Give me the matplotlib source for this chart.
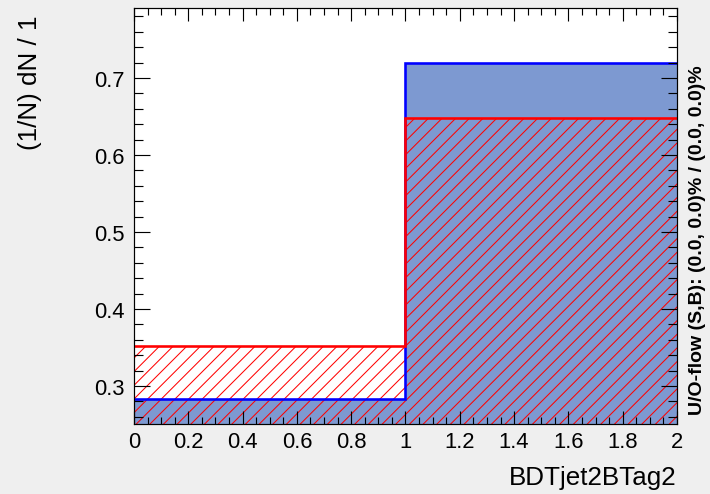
import matplotlib
matplotlib.use("Agg")
import matplotlib.pyplot as plt
import numpy as np

# bin edges of BDTjet2BTag2 and normalised contents
edges = [0.0, 1.0, 2.0]
signal = [0.283, 0.720]       # blue, filled
background = [0.352, 0.648]   # red, hatched

xlabel = "BDTjet2BTag2"
ylabel = "(1/N) dN / 1"
oflow_text = "U/O-flow (S,B): (0.0, 0.0)% / (0.0, 0.0)%"

# dpi picked so that the '//' hatch spacing looks like the ROOT 3005 style
DPI = 82
W, H = 711, 495
PT = 72.0 / DPI  # pixels -> points

plt.rcParams['font.family'] = ['Liberation Sans', 'DejaVu Sans']
plt.rcParams['hatch.color'] = 'red'
plt.rcParams['hatch.linewidth'] = 0.9

fig = plt.figure(figsize=(W / DPI, H / DPI), dpi=DPI, facecolor='#efefef')
ax = fig.add_axes([134 / W, (H - 425) / H, (677 - 134) / W, (425 - 9) / H])
ax.set_facecolor('white')

# histograms
ax.stairs(signal, edges, fill=True, color='#7d99d1', linewidth=0, zorder=1)
ax.stairs(background, edges, fill=True, facecolor='none', edgecolor='red',
          hatch='//', linewidth=0, zorder=1.1)
ax.stairs(signal, edges, baseline=None, color='blue', linewidth=2.6 * PT, zorder=1.2)
ax.stairs(background, edges, baseline=None, color='red', linewidth=2.6 * PT, zorder=1.3)

ax.set_xlim(0, 2)
ax.set_ylim(0.2506, 0.791)

ax.set_xticks(np.arange(0, 2.01, 0.2))
ax.set_xticks(np.arange(0, 2.01, 0.05), minor=True)
ax.set_xticklabels(["0", "0.2", "0.4", "0.6", "0.8", "1", "1.2", "1.4", "1.6", "1.8", "2"])
ax.set_yticks([0.3, 0.4, 0.5, 0.6, 0.7])
ax.set_yticks(np.arange(0.26, 0.79, 0.02), minor=True)

ax.tick_params(axis='both', which='both', direction='in', top=True, right=True,
               width=1.0, color='black', labelsize=22 * PT)
ax.tick_params(axis='x', which='major', length=13 * PT, pad=7 * PT)
ax.tick_params(axis='x', which='minor', length=7 * PT)
ax.tick_params(axis='y', which='major', length=16 * PT, pad=9 * PT)
ax.tick_params(axis='y', which='minor', length=9 * PT)

for s in ax.spines.values():
    s.set_linewidth(1.2 * PT)
    s.set_color('black')

# axis titles placed like ROOT does (aligned to the end of the axes)
fig.text(30 / W, (H - 15) / H, ylabel, rotation=90, ha='center', va='top',
         fontsize=26 * PT)
fig.text(677 / W, (H - 485) / H, xlabel, ha='right', va='baseline',
         fontsize=26 * PT)
fig.text(698 / W, (H - 415) / H, oflow_text, rotation=90, ha='center', va='bottom',
         fontsize=19.5 * PT, fontweight='bold')

fig.savefig("out.png", dpi=DPI, facecolor=fig.get_facecolor())
